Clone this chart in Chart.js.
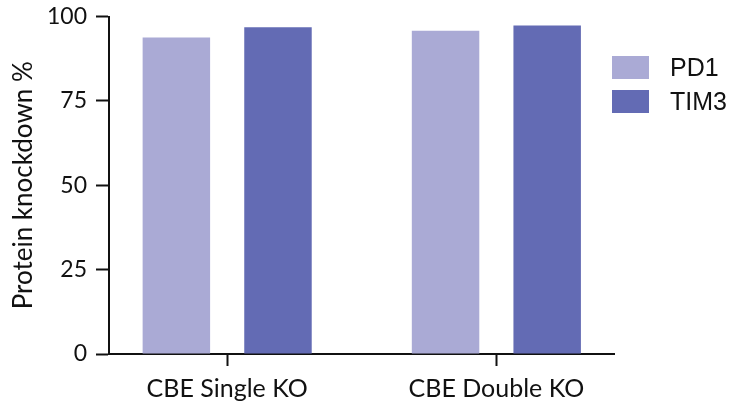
<!DOCTYPE html>
<html>
<head>
<meta charset="utf-8">
<script src="https://cdn.jsdelivr.net/npm/chart.js@4.4.1/dist/chart.umd.min.js"></script>
<style>
  html, body { margin: 0; padding: 0; background: #ffffff; }
  #wrap { position: relative; width: 731px; height: 409px; overflow: hidden; }
  #chart { position: absolute; left: 0; top: 0; }
  #legend { position: absolute; left: 612px; top: 50px; font-family: 'Liberation Sans', Arial, sans-serif; font-size: 25px; color: #111; }
  .item { display: flex; align-items: center; height: 34px; }
  .sw { width: 37px; height: 23px; margin-right: 21px; }
</style>
</head>
<body>
<div id="wrap">
  <canvas id="chart" width="731" height="409"></canvas>
  <div id="legend"></div>
</div>
<script>
const categories = ['CBE Single KO', 'CBE Double KO'];
const seriesNames = ['PD1', 'TIM3'];
const pd1Values = [93.8, 95.8];
const tim3Values = [96.8, 97.3];
const yTickValues = [0, 25, 50, 75, 100];
const seriesColors = ['#AAAAD5', '#636BB4'];

const toPoints = vals => vals.map((v, i) => ({ x: i + 1, y: v }));
const seriesValues = [pd1Values, tim3Values];

const legendEl = document.getElementById('legend');
seriesNames.forEach((name, i) => {
  const item = document.createElement('div');
  item.className = 'item';
  const sw = document.createElement('div');
  sw.className = 'sw';
  sw.style.background = seriesColors[i];
  const tx = document.createElement('span');
  tx.textContent = name;
  item.appendChild(sw);
  item.appendChild(tx);
  legendEl.appendChild(item);
});

function build() {
  new Chart(document.getElementById('chart'), {
    type: 'bar',
    data: {
      datasets: seriesNames.map((name, i) => ({
        label: name,
        data: toPoints(seriesValues[i]),
        backgroundColor: seriesColors[i],
        borderWidth: 0,
        categoryPercentage: 0.755,
        barPercentage: 0.664
      }))
    },
    options: {
      responsive: false,
      animation: false,
      devicePixelRatio: 1,
      layout: { padding: { top: 0, right: 117, bottom: 0, left: 0 } },
      plugins: { legend: { display: false }, tooltip: { enabled: false } },
      scales: {
        x: {
          type: 'linear',
          offset: false,
          min: 0.561,
          max: 2.437,
          afterBuildTicks: s => { s.ticks = categories.map((c, i) => ({ value: i + 1 })); },
          afterFit: s => { s.height = 55; },
          ticks: {
            callback: v => categories[v - 1],
            font: { family: 'Lato', size: 25 },
            color: '#111',
            padding: 8,
            maxRotation: 0,
            autoSkip: false
          },
          grid: { display: true, offset: false, drawOnChartArea: false, drawTicks: true, tickLength: 12, tickColor: '#111', tickWidth: 2 },
          border: { display: true, color: '#111', width: 2 }
        },
        y: {
          min: 0,
          max: 100,
          afterBuildTicks: s => { s.ticks = yTickValues.map(v => ({ value: v })); },
          afterFit: s => { s.width = 109; s.paddingTop = 16.5; s.paddingBottom = 10; },
          ticks: {
            font: { family: 'Lato', size: 23 },
            color: '#111',
            padding: 9
          },
          grid: { display: true, drawOnChartArea: false, drawTicks: true, tickLength: 13, tickColor: '#111', tickWidth: 2 },
          border: { display: true, color: '#111', width: 2 },
          title: {
            display: true,
            text: 'Protein knockdown %',
            font: { family: 'Lato', size: 26 },
            color: '#111',
            padding: { top: 8, bottom: 0 }
          }
        }
      }
    }
  });
}

Promise.all([
  document.fonts.load('25px Lato'),
  document.fonts.load('25px "Liberation Sans"')
]).then(build, build);
</script>
</body>
</html>
